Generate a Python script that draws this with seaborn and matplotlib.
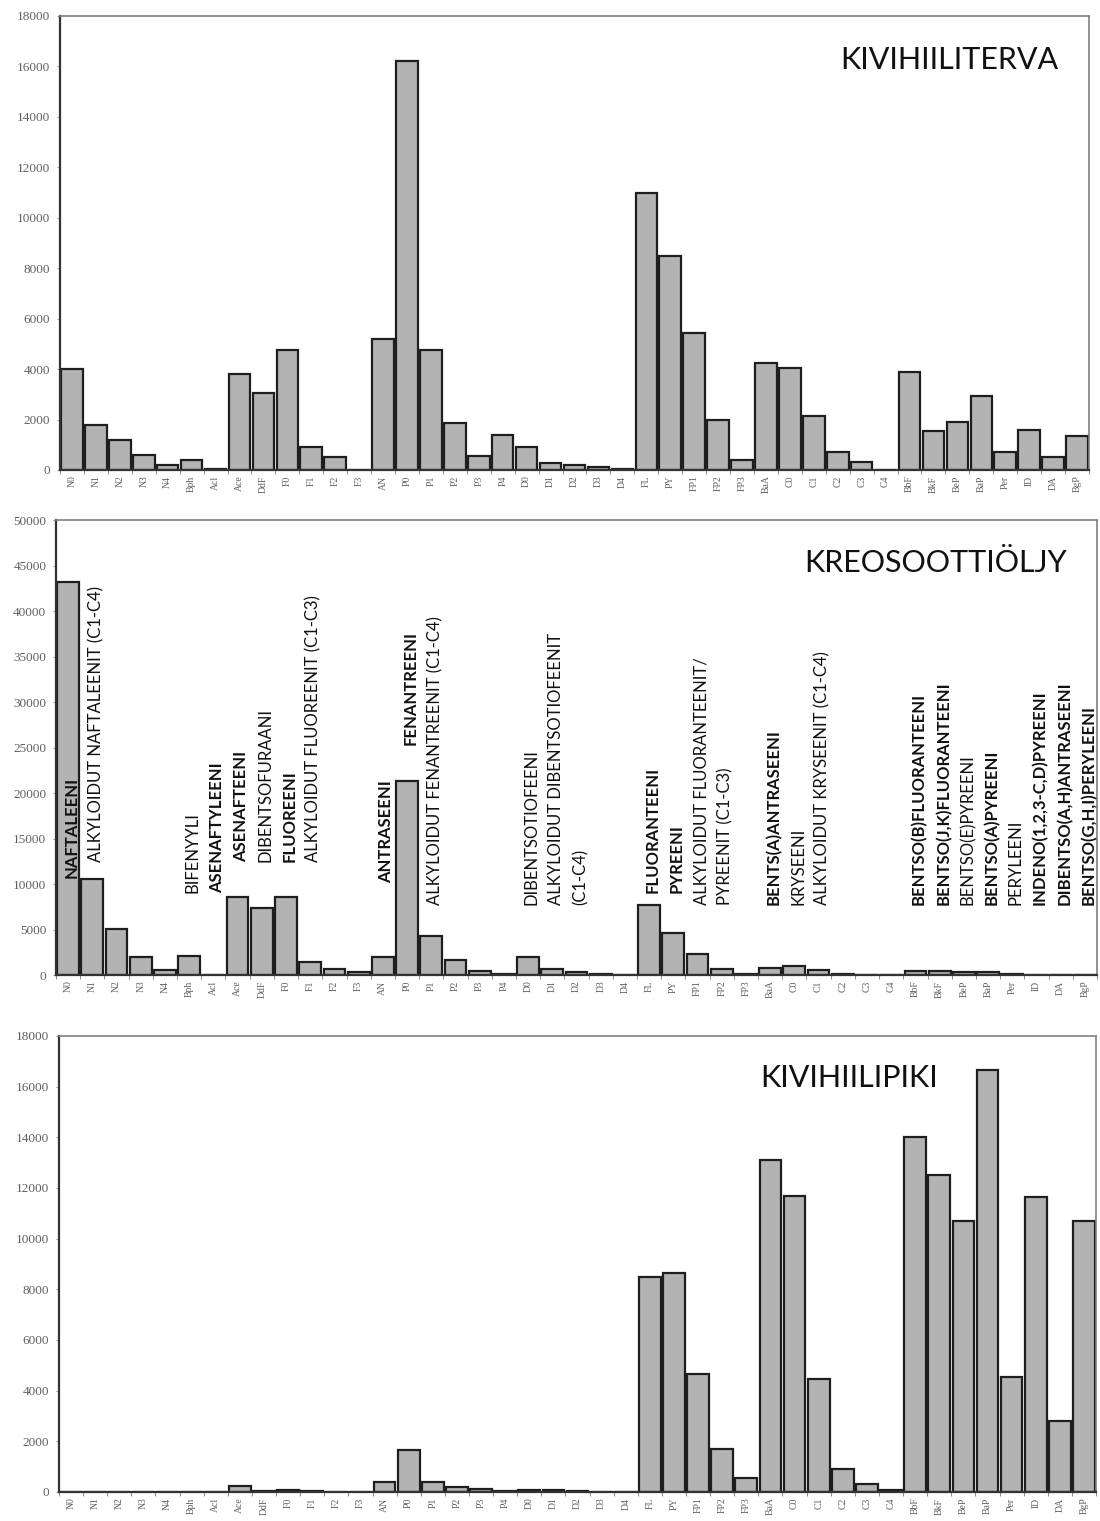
import matplotlib
matplotlib.use("Agg")
import matplotlib.pyplot as plt
import numpy as np
import pandas as pd
import seaborn as sns

sns.set_theme(style="white")
plt.rcParams["font.family"] = ["Lato", "DejaVu Sans"]

# PAH compounds / homologue groups on the x axis
categories = ["N0", "N1", "N2", "N3", "N4", "Bph", "Acl", "Ace", "DdF",
              "F0", "F1", "F2", "F3", "AN", "P0", "P1", "P2", "P3", "P4",
              "D0", "D1", "D2", "D3", "D4", "FL", "PY", "FP1", "FP2", "FP3",
              "BaA", "C0", "C1", "C2", "C3", "C4", "BbF", "BkF", "BeP", "BaP",
              "Per", "ID", "DA", "BgP"]

# Coal tar
kivihiiliterva = [4000, 1800, 1200, 600, 200, 400, 50, 3800, 3050,
                  4750, 900, 500, 0, 5200, 16200, 4750, 1850, 550, 1400,
                  920, 290, 200, 100, 20, 11000, 8500, 5450, 2000, 400,
                  4250, 4050, 2150, 700, 300, 0, 3900, 1550, 1900, 2950,
                  700, 1600, 500, 1350]

# Creosote oil
kreosoottioljy = [43200, 10500, 5100, 2000, 600, 2100, 50, 8600, 7400,
                  8550, 1450, 700, 300, 2000, 21300, 4300, 1600, 450, 100,
                  2000, 680, 300, 100, 0, 7700, 4600, 2300, 650, 150,
                  800, 950, 500, 150, 50, 0, 420, 400, 300, 350,
                  80, 50, 20, 30]

# Coal tar pitch
kivihiilipiki = [10, 10, 10, 10, 10, 10, 10, 250, 40,
                 80, 30, 10, 10, 400, 1650, 400, 200, 100, 40,
                 80, 60, 20, 10, 0, 8500, 8650, 4650, 1700, 550,
                 13100, 11700, 4450, 900, 300, 80, 14000, 12500, 10700, 16650,
                 4550, 11650, 2800, 10700]

titles = ["KIVIHIILITERVA", "KREOSOOTTIÖLJY", "KIVIHIILIPIKI"]
y_max = [18000, 50000, 18000]
y_step = [2000, 5000, 2000]

# Compound names written over the creosote panel: (category, text, bold, base value)
name_cats = ["N0", "N1", "Bph", "Acl", "Ace", "DdF", "F0", "F1",
             "AN", "P0", "P1", "D0", "D1", "D2",
             "FL", "PY", "FP1", "FP2", "BaA", "C0", "C1",
             "BbF", "BkF", "BeP", "BaP", "Per", "ID", "DA", "BgP"]
name_texts = ["NAFTALEENI", "ALKYLOIDUT NAFTALEENIT (C1-C4)", "BIFENYYLI",
              "ASENAFTYLEENI", "ASENAFTEENI", "DIBENTSOFURAANI", "FLUOREENI",
              "ALKYLOIDUT FLUOREENIT (C1-C3)", "ANTRASEENI", "FENANTREENI",
              "ALKYLOIDUT FENANTREENIT (C1-C4)", "DIBENTSOTIOFEENI",
              "ALKYLOIDUT DIBENTSOTIOFEENIT", "(C1-C4)", "FLUORANTEENI",
              "PYREENI", "ALKYLOIDUT FLUORANTEENIT/", "PYREENIT (C1-C3)",
              "BENTS(A)ANTRASEENI", "KRYSEENI", "ALKYLOIDUT KRYSEENIT (C1-C4)",
              "BENTSO(B)FLUORANTEENI", "BENTSO(J,K)FLUORANTEENI",
              "BENTSO(E)PYREENI", "BENTSO(A)PYREENI", "PERYLEENI",
              "INDENO(1,2,3-C,D)PYREENI", "DIBENTSO(A,H)ANTRASEENI",
              "BENTSO(G,H,I)PERYLEENI"]
name_bold = [True, False, False, True, True, False, True, False,
             True, True, False, False, False, False,
             True, True, False, False, True, False, False,
             True, True, False, True, False, True, True, True]
name_base = [10700, 12400, 9000, 9000, 12400, 12400, 12400, 12400,
             10100, 25300, 7700, 7700, 7700, 7700,
             9000, 9000, 7700, 7700, 7700, 7700, 7700,
             7700, 7700, 7700, 7700, 7700, 7700, 7700, 7700]

series = [kivihiiliterva, kreosoottioljy, kivihiilipiki]

fig = plt.figure(figsize=(11, 15.21), dpi=100)
W, H = 1100, 1521
# panel frames in pixels: left, right, top, bottom
frames = [(60, 1089, 16, 470), (56, 1097, 520, 975), (59, 1096, 1036, 1492)]
title_pos = [(1058, 60), (1067, 563), (938, 1078)]

for k in range(3):
    l, r, t, b = frames[k]
    ax = fig.add_axes([l / W, 1 - b / H, (r - l) / W, (b - t) / H])
    df = pd.DataFrame({"cat": categories, "val": series[k]})
    sns.barplot(data=df, x="cat", y="val", order=categories, color="#b3b3b3",
                saturation=1, edgecolor="#1e1e1e", linewidth=1.6, width=0.9,
                ax=ax)
    ax.set_xlim(-0.5, len(categories) - 0.5)
    ax.set_ylim(0, y_max[k])
    ax.set_yticks(np.arange(0, y_max[k] + 1, y_step[k]))
    ax.set_yticklabels([str(v) for v in np.arange(0, y_max[k] + 1, y_step[k])],
                       family="Liberation Serif", fontsize=9.5, color="#606060")
    ax.set_xticks(range(len(categories)))
    ax.set_xticklabels(categories, rotation=90, family="Liberation Serif",
                       fontsize=7, color="#606060")
    ax.set_xticks(np.arange(-0.5, len(categories), 1), minor=True)
    ax.tick_params(axis="x", which="major", length=0, pad=4)
    ax.tick_params(axis="x", which="minor", length=3, width=0.6,
                   color="#777777", direction="out", bottom=True)
    ax.tick_params(axis="y", length=2, width=0.6, color="#888888",
                   direction="out", left=True, pad=5)
    ax.set_xlabel("")
    ax.set_ylabel("")
    for side in ["left", "bottom"]:
        ax.spines[side].set_color("#333333")
        ax.spines[side].set_linewidth(1.6)
    for side in ["top", "right"]:
        ax.spines[side].set_color("#808080")
        ax.spines[side].set_linewidth(1.2)
    tx, ty = title_pos[k]
    fig.text(tx / W, 1 - ty / H, titles[k], ha="right", va="center",
             fontsize=22, color="#111111", family=["Lato", "DejaVu Sans"])

    if k == 1:
        for cat, txt, bold, base in zip(name_cats, name_texts, name_bold,
                                        name_base):
            ax.text(categories.index(cat) + 0.15, base, txt, rotation=90,
                    ha="center", va="bottom", fontsize=12,
                    fontweight="bold" if bold else "normal",
                    color="#111111", family=["Lato", "DejaVu Sans"])

fig.savefig("out.png", dpi=100, facecolor="white")
